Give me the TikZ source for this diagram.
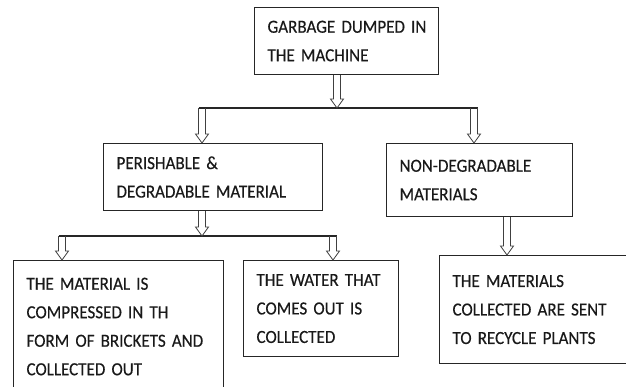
\documentclass[tikz,border=0pt]{standalone}
\usepackage{fontspec}
\setmainfont{Carlito}[FakeStretch=0.92,FakeBold=0.4]
\usetikzlibrary{calc}
\tikzset{
  box/.style={draw=black!85, line width=1.1pt, anchor=north west, inner xsep=13pt, inner ysep=0pt,
    align=left, font=\fontsize{18.5}{28.5}\selectfont, text=black!90},
  hline/.style={draw=black!85, line width=1.1pt, shorten <=-3.5pt, shorten >=-3.5pt},
  hollow/.style={draw=black!75, line width=0.8pt,
    to path={let \p1=(\tikztostart), \p2=(\tikztotarget) in
      (\x1-3.5pt,\y1) -- (\x1-3.5pt,\y2+9pt) -- (\x1-6.5pt,\y2+9pt) -- (\x2,\y2)
      -- (\x1+6.5pt,\y2+9pt) -- (\x1+3.5pt,\y2+9pt) -- (\x1+3.5pt,\y1)}}
}
\begin{document}
\begin{tikzpicture}[x=1pt,y=-1pt]
\useasboundingbox (0,0) rectangle (626,386);
% boxes
\node[box, minimum width=184pt, minimum height=67pt, text width=158pt] (top) at (254,7)
  {GARBAGE~DUMPED~IN\\THE MACHINE};
\node[box, minimum width=219pt, minimum height=67pt, text width=193pt] (per) at (103,143)
  {PERISHABLE \&\\DEGRADABLE~MATERIAL};
\node[box, minimum width=186pt, minimum height=73pt, text width=160pt] (nd) at (386,143)
  {NON-DEGRADABLE\\MATERIALS};
\node[box, minimum width=210pt, minimum height=132pt, text width=184pt] (bl) at (13,260)
  {THE MATERIAL IS\\COMPRESSED~IN~TH\\FORM~OF~BRICKETS~AND\\COLLECTED OUT};
\node[box, minimum width=155pt, minimum height=96pt, text width=129pt] (mid) at (243,260)
  {THE~WATER~THAT\\COMES~OUT~IS\\COLLECTED};
\node[box, minimum width=191pt, minimum height=108pt, text width=165pt] (rb) at (439,255)
  {THE MATERIALS\\COLLECTED~ARE~SENT\\TO~RECYCLE~PLANTS};
% junction coordinates
\coordinate (j1) at (337,108);
\coordinate (l1) at (202,108);
\coordinate (r1) at (474,108);
\coordinate (j2) at (202,236);
\coordinate (l2) at (62,236);
\coordinate (r2) at (333,236);
\coordinate (j3) at (507,236);
% branch lines
\draw[hline] (l1) -- (r1);
\draw[hline] (l2) -- (r2);
% hollow arrows
\draw[hollow] (j1 |- top.south) to (j1);
\draw[hollow] (l1) to (l1 |- per.north);
\draw[hollow] (r1) to (r1 |- nd.north);
\draw[hollow] (j2 |- per.south) to (j2);
\draw[hollow] (l2) to (l2 |- bl.north);
\draw[hollow] (r2) to (r2 |- mid.north);
\draw[hollow] (j3 |- nd.south) to (j3 |- rb.north);
\end{tikzpicture}
\end{document}
